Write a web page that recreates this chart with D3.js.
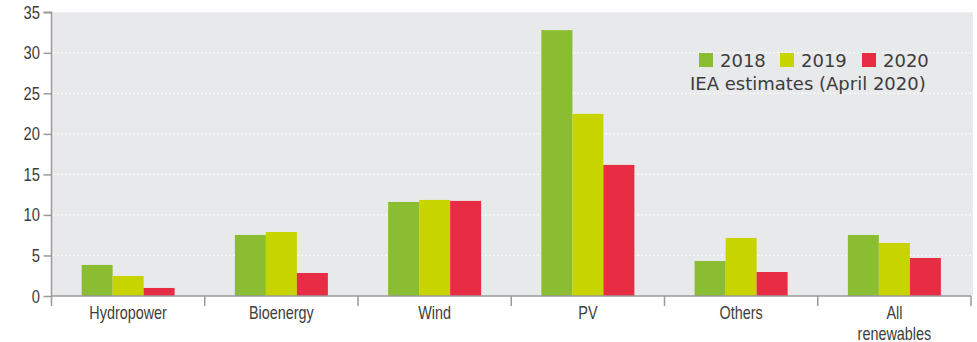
<!DOCTYPE html>
<html><head><meta charset="utf-8">
<script src="https://cdn.jsdelivr.net/npm/d3@7/dist/d3.min.js"></script>
<style>
html,body{margin:0;padding:0;background:#fff;}
svg{display:block;}
</style></head>
<body><svg id="c" width="977" height="342"></svg>
<script>
const categories = ["Hydropower","Bioenergy","Wind","PV","Others","All\nrenewables"];
const seriesNames = ["2018","2019","2020"];
const v2018 = [3.83, 7.53, 11.6, 32.8, 4.32, 7.53];
const v2019 = [2.47, 7.9, 11.85, 22.47, 7.16, 6.54];
const v2020 = [0.99, 2.84, 11.73, 16.17, 2.96, 4.69];
const colors = ["#8abd32","#c8d400","#e62d44"];
const yTicks = [0,5,10,15,20,25,30,35];
const note = "IEA estimates (April 2020)";

const series = [v2018, v2019, v2020];
const svg = d3.select("#c");
const m = {left:51.5, right:971, top:12.3, bottom:296};
const x = d3.scaleBand().domain(categories).range([m.left, m.right]).paddingInner(0).paddingOuter(0);
const y = d3.scaleLinear().domain([0,35]).range([m.bottom, m.top]);
const textCol = "#3d3d3d";
const axisCol = "#9a9a9a";
const narrowFont = "'Liberation Sans',Arial,sans-serif";
const sx = 0.8;

// background
svg.append("rect").attr("x", m.left).attr("y", m.top).attr("width", 973 - m.left).attr("height", m.bottom - m.top).attr("fill", "#e8e9eb");

// gridlines
svg.append("g").selectAll("line").data(yTicks.filter(t => t>0 && t<35)).join("line")
  .attr("x1", m.left+2).attr("x2", 973).attr("y1", d=>y(d)).attr("y2", d=>y(d))
  .attr("stroke", "#ffffff").attr("stroke-width", 1.3).attr("stroke-dasharray", "1.5,2.5");

// bars
const barW = 31;
const groupW = barW*3;
const g = svg.append("g");
categories.forEach((c, i) => {
  const cx = x(c) + x.bandwidth()/2;
  series.forEach((s, j) => {
    g.append("rect")
      .attr("x", cx - groupW/2 + j*barW)
      .attr("width", barW)
      .attr("y", y(s[i]))
      .attr("height", y(0) - y(s[i]))
      .attr("fill", colors[j]);
  });
});

// y axis
const yAxis = d3.axisLeft(y).tickValues(yTicks).tickSize(8).tickFormat(() => "");
const ya = svg.append("g").attr("transform", `translate(${m.left},0)`).call(yAxis);
ya.select(".domain").attr("stroke", axisCol).attr("stroke-width", 1.5).attr("d", `M-8,${m.top}H0V${m.bottom+10}`);
ya.selectAll(".tick line").attr("stroke", axisCol).attr("stroke-width", 1.5);
svg.append("g").selectAll("text").data(yTicks).join("text")
  .attr("transform", d => `translate(40,${y(d)+6.5}) scale(0.82,1)`)
  .attr("text-anchor", "end").attr("fill", textCol)
  .style("font-family", narrowFont).style("font-size", "18px")
  .text(d => d);

// x axis
const xa = svg.append("g").attr("transform", `translate(0,${m.bottom})`);
xa.append("line").attr("x1", m.left).attr("x2", m.right).attr("y1", 0).attr("y2", 0).attr("stroke", axisCol).attr("stroke-width", 1.5);
const bounds = categories.map(c => x(c)).concat([m.right]);
xa.selectAll("line.tk").data(bounds.slice(1)).join("line").attr("class","tk")
  .attr("x1", d=>d).attr("x2", d=>d).attr("y1", 0).attr("y2", 10).attr("stroke", axisCol).attr("stroke-width", 1.5);
categories.forEach(c => {
  const lines = c.split("\n");
  lines.forEach((l, k) => {
    xa.append("text")
      .attr("transform", `translate(${x(c) + x.bandwidth()/2},${23 + k*21}) scale(${sx},1)`)
      .attr("text-anchor", "middle").attr("fill", textCol)
      .style("font-family", narrowFont).style("font-size", "18px")
      .text(l);
  });
});

// legend
const lg = svg.append("g").style("font-family", "'DejaVu Sans',sans-serif").style("font-size", "18px").attr("fill", textCol);
const legX = [699, 780, 862];
seriesNames.forEach((n, j) => {
  lg.append("rect").attr("x", legX[j]).attr("y", 53).attr("width", 14).attr("height", 14).attr("fill", colors[j]);
  lg.append("text").attr("x", legX[j] + 21).attr("y", 67).text(n);
});
lg.append("text").attr("x", 690).attr("y", 90).text(note);
</script></body></html>
